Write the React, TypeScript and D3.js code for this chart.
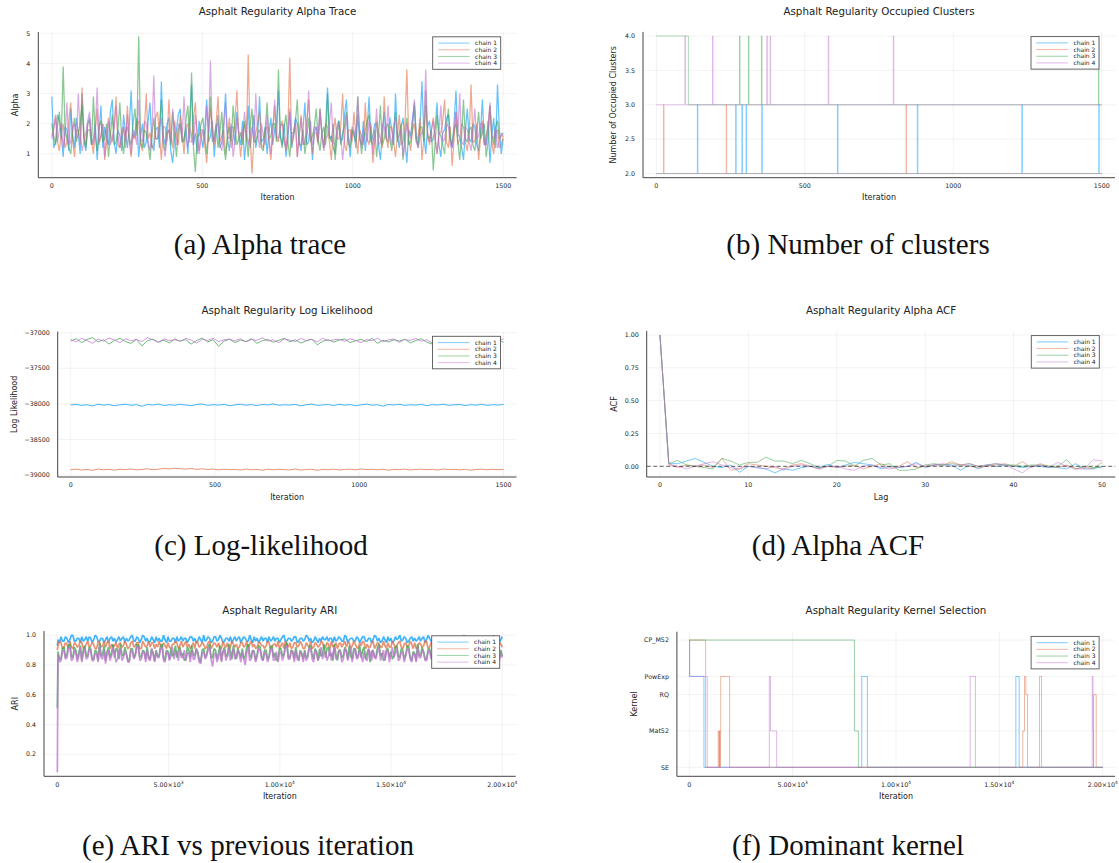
import React from 'react';
import * as d3 from 'd3';

const W = 1119;
const H = 863;

const chainNames = ['chain 1', 'chain 2', 'chain 3', 'chain 4'];
const chainColors = ['#009af9', '#e26f46', '#3da44d', '#c271d2'];

// (a) alpha trace, readings every ~6.3 iterations (1500 iterations)
const alphaChain1 = [
  2.9, 1.2, 1.4, 2.3, 2.1, 1.6, 0.9, 1.9, 1.8, 1.1, 2.5, 1.6, 1.2, 2.2, 1.7, 1.0, 3.0, 1.5, 1.1, 2.0,
  2.2, 1.3, 1.5, 2.0, 0.8, 1.7, 2.6, 1.2, 1.9, 1.5, 1.3, 2.4, 2.8, 1.4, 1.0, 1.8, 1.6, 1.1, 2.3, 1.7,
  1.2, 1.9, 3.1, 1.5, 1.7, 2.2, 0.9, 1.6, 2.0, 1.2, 1.4, 2.1, 2.7, 1.3, 1.1, 1.8, 1.9, 1.2, 3.4, 1.6,
  1.3, 2.0, 2.2, 1.1, 0.7, 1.5, 1.8, 2.3, 2.5, 1.4, 1.5, 1.9, 1.0, 2.2, 3.3, 1.3, 1.7, 1.0, 2.1, 1.6,
  1.2, 1.8, 2.8, 1.4, 1.6, 2.1, 0.9, 1.7, 2.3, 1.2, 1.4, 2.0, 3.0, 1.5, 1.1, 1.9, 1.9, 1.3, 2.4, 1.6,
  1.3, 2.1, 0.8, 1.5, 2.6, 1.2, 1.7, 2.3, 1.2, 1.6, 2.9, 1.4, 1.5, 1.9, 1.0, 1.7, 2.2, 1.3, 1.8, 2.0,
  3.1, 1.6, 1.3, 2.0, 0.9, 1.5, 2.4, 1.2, 1.6, 2.2, 2.0, 1.4, 1.1, 1.8, 2.7, 1.3, 1.4, 2.1, 0.8, 1.7,
  1.9, 1.4, 2.5, 1.7, 1.2, 2.0, 3.2, 1.5, 1.6, 1.2, 1.0, 1.9, 2.1, 1.4, 1.5, 2.3, 2.8, 1.6, 0.9, 1.8,
  1.7, 1.2, 2.3, 1.5, 1.3, 2.1, 1.1, 1.8, 2.9, 1.4, 1.6, 2.0, 2.0, 1.3, 0.8, 1.7, 2.4, 1.5, 1.4, 2.2,
  1.8, 1.3, 3.0, 1.6, 1.2, 1.9, 2.2, 1.4, 0.7, 1.8, 1.6, 2.2, 2.6, 1.5, 1.3, 2.0, 3.4, 1.6, 1.0, 1.9,
  2.1, 1.4, 1.5, 1.9, 2.7, 1.3, 0.9, 1.7, 1.8, 2.2, 2.3, 1.5, 1.2, 2.0, 3.1, 1.6, 1.6, 1.2, 0.8, 1.8,
  2.5, 1.5, 1.4, 2.0, 1.9, 1.3, 1.1, 1.7, 2.8, 1.4, 1.3, 2.1, 0.7, 1.6, 2.2, 1.2, 3.3, 1.8, 1.0, 1.5,
];
const alphaChain2 = [
  1.6, 1.9, 2.3, 1.4, 1.1, 1.7, 2.0, 1.2, 1.4, 2.1, 2.7, 1.5, 0.9, 1.8, 1.8, 1.3, 3.2, 1.6, 1.3, 2.0,
  2.1, 1.5, 1.0, 1.8, 2.5, 1.3, 1.6, 2.0, 0.8, 1.4, 2.2, 1.7, 1.4, 1.9, 2.9, 1.3, 1.2, 1.6, 1.9, 1.2,
  2.6, 1.4, 0.9, 1.7, 1.5, 2.0, 2.1, 1.3, 1.1, 1.8, 3.0, 1.5, 1.7, 1.2, 1.3, 2.2, 2.4, 1.6, 0.8, 1.9,
  1.9, 1.4, 2.8, 1.6, 1.2, 2.1, 1.6, 1.3, 2.3, 1.7, 1.0, 1.9, 2.0, 1.4, 1.4, 2.2, 2.7, 1.5, 1.1, 1.8,
  1.8, 1.3, 0.7, 1.6, 2.5, 1.9, 1.3, 2.0, 2.9, 1.4, 1.6, 1.8, 1.0, 1.5, 2.2, 1.2, 1.5, 2.1, 3.1, 1.6,
  0.9, 1.7, 2.0, 1.4, 4.3, 1.6, 0.35, 1.5, 1.7, 2.0, 2.4, 1.3, 1.2, 1.8, 1.9, 1.4, 0.8, 1.7, 2.6, 1.5,
  1.4, 1.9, 2.1, 1.5, 1.1, 1.8, 4.2, 1.3, 1.6, 2.0, 0.9, 1.6, 2.3, 1.4, 1.3, 2.1, 2.8, 1.5, 1.0, 1.7,
  1.7, 1.3, 2.5, 1.6, 1.2, 2.0, 1.9, 1.4, 0.8, 1.7, 2.2, 1.5, 1.5, 1.9, 3.0, 1.3, 1.1, 1.8, 1.8, 1.4,
  2.4, 1.6, 1.0, 1.8, 1.6, 1.3, 2.7, 1.5, 1.3, 2.0, 0.7, 1.4, 2.1, 1.7, 1.5, 1.2, 2.9, 1.6, 1.2, 1.9,
  1.9, 1.4, 0.9, 1.6, 2.3, 1.3, 1.4, 2.0, 3.8, 1.5, 1.1, 1.8, 2.0, 1.4, 1.6, 2.2, 0.8, 1.5, 2.6, 1.7,
  1.3, 1.8, 2.2, 1.5, 1.0, 1.7, 1.7, 2.1, 2.8, 1.4, 1.2, 1.9, 0.6, 1.5, 2.4, 1.3, 1.5, 2.0, 1.9, 1.4,
  1.1, 1.6, 3.3, 1.4, 1.4, 2.0, 0.8, 1.5, 2.1, 1.3, 1.6, 1.9, 2.6, 1.4, 1.0, 1.7, 1.8, 1.2, 1.3, 1.6,
];
const alphaChain3 = [
  2.0, 1.6, 1.3, 1.9, 2.4, 1.5, 3.9, 1.8, 1.5, 1.2, 1.0, 1.7, 2.2, 1.4, 1.7, 2.0, 2.6, 1.5, 1.2, 1.8,
  1.8, 1.3, 2.9, 1.6, 1.1, 1.9, 2.1, 1.4, 1.5, 2.0, 0.9, 1.6, 2.3, 1.3, 1.4, 1.8, 2.7, 1.5, 1.0, 1.7,
  1.9, 1.5, 1.3, 2.0, 2.5, 1.6, 4.9, 1.4, 1.2, 1.8, 1.7, 1.3, 0.8, 1.6, 2.2, 1.5, 1.5, 1.9, 2.8, 1.4,
  1.1, 1.7, 1.8, 1.3, 2.4, 1.6, 0.9, 1.8, 2.0, 1.4, 1.4, 2.1, 2.6, 1.5, 3.7, 1.2, 0.4, 1.6, 1.6, 2.0,
  2.2, 1.5, 1.0, 1.8, 2.9, 1.4, 1.5, 2.0, 1.2, 1.7, 2.4, 1.3, 0.8, 1.6, 1.9, 1.4, 2.6, 1.8, 1.3, 1.5,
  1.7, 1.3, 2.1, 1.6, 0.9, 1.9, 2.5, 1.4, 1.4, 1.7, 1.8, 1.2, 1.1, 1.8, 2.7, 1.5, 1.6, 2.0, 2.0, 1.4,
  3.8, 1.6, 1.2, 1.9, 2.3, 1.4, 0.9, 1.7, 1.7, 2.1, 2.8, 1.3, 1.3, 1.8, 1.0, 1.5, 2.2, 1.4, 1.6, 1.9,
  2.5, 1.5, 1.1, 1.7, 1.9, 1.3, 3.0, 1.6, 1.4, 2.0, 0.8, 1.5, 2.1, 1.3, 1.7, 1.9, 2.4, 1.4, 1.2, 1.8,
  1.6, 1.4, 2.9, 1.7, 1.0, 1.5, 1.8, 2.1, 2.3, 1.4, 1.3, 1.8, 0.9, 1.6, 2.6, 1.3, 1.5, 1.9, 2.0, 1.5,
  1.1, 1.7, 2.4, 1.4, 1.7, 2.0, 0.8, 1.6, 2.2, 1.3, 1.4, 1.8, 2.7, 1.5, 1.2, 1.9, 1.9, 1.4, 3.1, 1.6,
  1.5, 1.8, 0.45, 1.4, 2.3, 1.7, 1.6, 1.3, 1.0, 1.9, 2.5, 1.5, 1.3, 1.8, 2.0, 1.4, 0.8, 1.6, 2.8, 1.5,
  1.4, 1.8, 1.9, 1.3, 1.1, 1.7, 2.4, 1.5, 1.7, 2.0, 0.9, 1.4, 2.6, 1.6, 1.3, 1.9, 2.1, 1.5, 1.6, 1.7,
];
const alphaChain4 = [
  1.5, 1.8, 2.2, 1.4, 1.8, 2.0, 1.2, 1.6, 2.7, 1.3, 1.4, 1.9, 2.0, 1.5, 3.0, 1.7, 1.1, 1.4, 1.7, 2.1,
  2.4, 1.5, 1.3, 1.8, 3.2, 1.4, 1.6, 2.0, 0.9, 1.7, 2.1, 1.3, 1.5, 1.9, 2.6, 1.6, 1.2, 1.8, 1.9, 1.4,
  2.3, 1.6, 1.0, 1.8, 1.7, 1.3, 2.8, 1.5, 1.4, 2.1, 2.0, 1.4, 1.1, 1.7, 3.6, 1.5, 1.5, 1.9, 2.2, 1.3,
  0.9, 1.6, 1.8, 1.4, 2.5, 1.8, 1.3, 2.0, 1.9, 1.5, 2.9, 1.6, 1.2, 1.9, 1.6, 1.3, 2.3, 1.7, 1.0, 1.5,
  1.8, 1.4, 2.6, 1.7, 4.1, 1.5, 1.4, 1.9, 2.0, 1.3, 1.1, 1.8, 2.7, 1.6, 1.5, 2.0, 0.9, 1.4, 2.2, 1.7,
  1.7, 1.5, 2.4, 1.8, 1.3, 1.6, 1.9, 1.4, 3.0, 1.7, 1.2, 2.0, 1.6, 1.3, 2.3, 1.5, 1.0, 1.8, 2.8, 1.6,
  1.5, 1.9, 2.0, 1.4, 1.2, 1.7, 2.5, 1.5, 1.7, 2.1, 0.9, 1.6, 2.2, 1.3, 1.4, 1.8, 3.1, 1.5, 1.3, 1.9,
  1.9, 1.4, 2.4, 1.7, 1.1, 1.5, 1.6, 2.0, 2.7, 1.4, 1.3, 1.8, 2.0, 1.6, 0.8, 1.5, 2.3, 1.3, 1.5, 1.9,
  1.8, 1.5, 2.9, 1.6, 1.2, 1.8, 1.7, 1.4, 2.1, 1.9, 1.0, 1.6, 2.5, 1.3, 1.4, 2.0, 1.9, 1.5, 2.6, 1.7,
  1.3, 1.9, 2.2, 1.5, 1.6, 1.8, 0.9, 1.4, 2.0, 1.7, 1.5, 2.1, 2.8, 1.4, 1.2, 1.6, 1.7, 1.9, 3.8, 1.5,
  1.4, 1.8, 2.1, 1.5, 1.0, 1.7, 2.6, 1.4, 1.5, 2.0, 1.9, 1.3, 1.2, 1.8, 2.4, 1.6, 3.0, 1.4, 1.3, 1.9,
  1.8, 1.4, 1.1, 1.7, 2.5, 1.5, 1.6, 2.0, 2.0, 1.3, 1.3, 1.8, 2.7, 1.6, 1.5, 1.9, 1.2, 1.4, 1.7, 1.6,
];

// (b) occupied clusters, [iteration, clusters] change points
const clustersChain1 = [
  [0, 2], [138, 3], [140, 2], [267, 3], [269, 2], [288, 3], [290, 2], [302, 3], [304, 2], [355, 3], [357, 2],
  [610, 3], [612, 2], [879, 3], [881, 2], [1231, 3], [1233, 2], [1490, 3], [1492, 2], [1500, 2],
];
const clustersChain2 = [[0, 2], [24, 3], [26, 2], [235, 3], [237, 2], [841, 3], [843, 2], [1500, 2]];
const clustersChain3 = [
  [0, 4], [108, 3], [280, 4], [282, 3], [310, 4], [312, 3], [354, 4], [356, 3], [1489, 4], [1491, 3], [1500, 3],
];
const clustersChain4 = [
  [0, 3], [96, 4], [98, 3], [189, 4], [191, 3], [372, 4], [374, 3], [383, 4], [385, 3], [579, 4], [581, 3],
  [798, 4], [800, 3], [1500, 3],
];

// (c) log likelihood, readings over 1500 iterations
const loglikChain1 = [
  -38015, -38008, -38022, -38012, -38030, -38005, -38018, -38010, -38026, -38014, -38006, -38020, -38011, -38035, -38009, -38017,
  -38004, -38023, -38013, -38019, -38007, -38016, -38025, -38010, -38003, -38021, -38012, -38018, -38008, -38027, -38014, -38006,
  -38019, -38011, -38024, -38009, -38016, -38002, -38020, -38013, -38017, -38008, -38028, -38012, -38005, -38021, -38015, -38010,
  -38023, -38007, -38018, -38011, -38026, -38014, -38004, -38019, -38012, -38033, -38009, -38016, -38006, -38022, -38013, -38018,
  -38008, -38025, -38011, -38017, -38005, -38020, -38014, -38009, -38024, -38012, -38018, -38007, -38021, -38013, -38016, -38010,
];
const loglikChain2 = [
  -38925, -38918, -38930, -38921, -38935, -38916, -38927, -38920, -38932, -38919, -38924, -38915, -38928, -38922, -38912, -38926,
  -38918, -38908, -38914, -38905, -38911, -38917, -38909, -38920, -38913, -38923, -38916, -38928, -38919, -38925, -38921, -38930,
  -38917, -38926, -38922, -38933, -38918, -38927, -38920, -38924, -38929, -38916, -38931, -38923, -38919, -38934, -38921, -38926,
  -38917, -38930, -38922, -38918, -38928, -38915, -38924, -38920, -38927, -38919, -38932, -38921, -38925, -38917, -38929, -38922,
  -38918, -38926, -38920, -38931, -38916, -38924, -38921, -38928, -38919, -38933, -38923, -38917, -38927, -38920, -38925, -38922,
];
const loglikChain3 = [
  -37120, -37085, -37140, -37095, -37070, -37130, -37100, -37160, -37110, -37080, -37125, -37150, -37095, -37185, -37115, -37090,
  -37135, -37105, -37145, -37088, -37120, -37098, -37160, -37110, -37075, -37130, -37100, -37190, -37118, -37092, -37140, -37105,
  -37125, -37085, -37150, -37112, -37096, -37135, -37108, -37078, -37128, -37100, -37145, -37115, -37090, -37170, -37120, -37098,
  -37132, -37105, -37088, -37140, -37112, -37095, -37125, -37080, -37150, -37108, -37130, -37100, -37118, -37092, -37145, -37110,
  -37085, -37135, -37160, -37102, -37125, -37090, -37140, -37108, -37095, -37130, -37115, -37088, -37150, -37120, -37100, -37135,
];
const loglikChain4 = [
  -37095, -37130, -37080, -37110, -37150, -37090, -37120, -37075, -37105, -37140, -37085, -37115, -37095, -37125, -37070, -37100,
  -37135, -37088, -37112, -37098, -37120, -37080, -37105, -37145, -37092, -37110, -37078, -37125, -37100, -37090, -37115, -37085,
  -37130, -37095, -37108, -37072, -37118, -37100, -37140, -37088, -37105, -37125, -37082, -37110, -37095, -37130, -37078, -37115,
  -37100, -37092, -37120, -37086, -37108, -37140, -37098, -37112, -37080, -37125, -37102, -37090, -37135, -37095, -37110, -37082,
  -37120, -37100, -37145, -37088, -37105, -37092, -37118, -37080, -37110, -37128, -37094, -37106, -37085, -37120, -37098, -37090,
];

// (d) alpha ACF, lags 0..50
const acfChain1 = [
  1.0, 0.02, 0.02, 0.04, 0.06, 0.03, 0.0, -0.01, 0.01, -0.045, 0.0, -0.01, -0.02, -0.05, -0.02, -0.03, -0.01, 0.0, -0.01, 0.015,
  -0.01, 0.01, 0.03, 0.02, 0.01, -0.02, 0.0, -0.01, 0.0, 0.03, -0.01, 0.01, 0.01, 0.01, -0.03, 0.01, -0.02, 0.01, 0.0, 0.01,
  0.0, -0.01, 0.0, 0.0, -0.01, -0.01, -0.02, 0.02, -0.02, -0.02, 0.0,
];
const acfChain2 = [
  1.0, 0.02, -0.01, 0.01, 0.0, 0.01, -0.01, 0.06, -0.03, -0.02, 0.02, 0.01, 0.0, -0.01, -0.02, 0.01, 0.02, 0.0, -0.02, 0.0,
  -0.01, 0.0, 0.01, -0.02, 0.0, 0.02, -0.01, 0.0, 0.035, -0.01, 0.0, 0.01, 0.01, 0.035, 0.01, 0.0, -0.01, 0.0, 0.01, 0.02,
  0.0, 0.035, -0.01, 0.02, 0.0, -0.01, 0.01, -0.02, -0.01, -0.02, 0.03,
];
const acfChain3 = [
  1.0, 0.02, 0.045, 0.01, 0.0, -0.01, -0.02, 0.06, 0.04, 0.01, 0.03, 0.03, 0.07, 0.04, 0.04, 0.02, 0.045, 0.02, -0.01, 0.0,
  0.045, 0.04, 0.0, 0.045, 0.06, 0.01, 0.02, -0.03, -0.03, -0.02, 0.01, 0.02, 0.01, 0.02, 0.01, 0.02, 0.0, 0.01, 0.02, 0.01,
  0.01, 0.0, 0.01, 0.01, 0.0, 0.0, 0.05, -0.02, 0.0, -0.01, -0.01,
];
const acfChain4 = [
  1.0, 0.01, 0.0, -0.02, 0.0, 0.02, 0.035, 0.01, -0.01, -0.02, 0.0, -0.01, -0.02, 0.0, -0.03, 0.0, 0.01, 0.0, -0.02, 0.0,
  0.0, -0.02, -0.03, 0.0, 0.01, -0.01, -0.02, -0.01, 0.0, 0.02, 0.0, 0.01, 0.02, 0.0, 0.01, 0.02, 0.0, 0.01, 0.02, 0.01,
  -0.02, -0.05, 0.0, 0.01, -0.01, 0.03, 0.0, -0.02, -0.02, 0.05, 0.04,
];

// (e) ARI vs previous iteration: first value at iteration 0, then readings over 20000 iterations
const ariStart = [0.93, 0.9, 0.51, 0.08];
const ariChain1 = [
  .97, .95, .99, .96, .96, .99, .98, .95, .97, 1.0, 1.0, .96, .96, .98, .98, .95, .99, .96, .97, .99,
  .96, .99, .98, .95, .97, 1.0, .99, .96, .96, .98, .98, .95, .97, .99, .95, .98, .99, .96, .98, .95,
  .97, .99, .96, .98, .99, .95, .98, .96, .97, .99, 1.0, .96, .96, .99, .98, .95, .97, 1.0, .99, .96,
  .98, .95, .96, .99, .97, .95, .99, .96, .98, .96, .96, 1.0, .97, .95, .99, .96, .96, .98, .98, .95,
  .99, .96, .97, .99, .96, .98, .98, .95, .97, .99, .99, .96, .98, .95, .96, .99, .97, .95, 1.0, .96,
  .97, .99, .98, .95, .96, .99, .99, .96, .97, 1.0, .98, .95, .96, .98, .98, .96, .99, .95, .97, .99,
  .96, .98, .99, .95, .97, .99, .98, .96, .96, 1.0, .97, .95, .99, .96, .98, .95, .97, .99, .96, .98,
  .98, .95, .99, .96, .97, .99, .96, .98, .98, .95, .97, .99, 1.0, .96, .96, .98, .98, .96, .97, .99,
  .99, .95, .96, .98, .98, .96, .97, 1.0, .99, .96, .98, .95, .96, .99, .97, .95, .98, .96, .99, .97,
  .97, .99, .96, .98, .98, .95, .99, .96, .97, .99, .98, .96, .96, 1.0, .99, .95, .97, .98, .98, .96,
  .96, .99, .98, .95, .97, .99, .99, .96, .96, .98, .98, .95, .97, 1.0, .99, .96, .98, .95, .96, .99,
  .97, .95, .99, .96, .98, .95, .96, .99, .97, .98, 1.0, .96, .97, .99, .98, .95, .96, .98, .99, .96,
  .98, .96, .97, .99, .96, .98, .99, .95, .97, 1.0, .98, .96, .96, .99, .98, .95, .99, .96, .97, .99,
  .96, .99, .98, .95, .97, .99, .99, .96, .98, .95, .96, .98, .97, 1.0, .99, .96, .97, .95, .98, .96,
  .99, .95, .96, .98, .98, .96, .97, .99, .99, .96, .98, .95, .96, 1.0, .97, .96, .98, .95, .97, .99,
];
const ariChain2 = [
  .93, .96, .95, .91, .92, .95, .94, .91, .96, .92, .91, .95, .94, .92, .93, .96, .95, .91, .92, .94,
  .96, .92, .93, .95, .94, .91, .91, .96, .95, .92, .93, .96, .92, .95, .96, .91, .94, .92, .93, .95,
  .91, .94, .95, .92, .93, .96, .94, .91, .92, .95, .96, .92, .93, .95, .95, .91, .91, .96, .94, .92,
  .93, .96, .92, .95, .95, .91, .94, .92, .96, .93, .92, .95, .93, .91, .95, .92, .91, .94, .94, .96,
  .95, .91, .93, .96, .92, .94, .96, .92, .94, .91, .93, .95, .91, .96, .95, .92, .93, .95, .94, .91,
  .92, .95, .96, .91, .93, .95, .94, .92, .95, .91, .91, .96, .93, .92, .95, .91, .92, .96, .94, .92,
  .94, .91, .92, .95, .95, .92, .93, .96, .91, .94, .96, .92, .94, .91, .92, .95, .95, .93, .93, .91,
  .93, .96, .95, .91, .92, .94, .94, .92, .96, .91, .93, .95, .91, .96, .94, .92, .95, .91, .92, .95,
  .95, .92, .93, .96, .94, .91, .91, .95, .93, .92, .96, .91, .92, .95, .94, .92, .93, .96, .95, .91,
  .92, .95, .94, .91, .96, .92, .93, .95, .91, .94, .95, .92, .94, .96, .92, .95, .95, .91, .93, .96,
  .94, .92, .91, .95, .93, .96, .95, .91, .94, .92, .92, .95, .96, .91, .93, .95, .94, .92, .92, .96,
  .93, .91, .95, .92, .92, .96, .94, .91, .93, .95, .96, .92, .91, .94, .95, .92, .93, .96, .94, .91,
  .95, .91, .92, .95, .94, .92, .93, .96, .96, .91, .92, .95, .94, .92, .91, .95, .95, .92, .93, .96,
  .92, .96, .94, .91, .95, .92, .93, .95, .91, .94, .94, .92, .96, .91, .93, .95, .92, .96, .95, .91,
  .94, .92, .93, .95, .91, .94, .95, .92, .93, .96, .94, .91, .92, .95, .96, .92, .93, .95, .94, .92,
];
const ariChain3 = [
  .89, .84, .84, .91, .92, .85, .87, .93, .94, .86, .85, .92, .90, .84, .88, .93, .83, .90, .93, .86,
  .86, .92, .91, .84, .84, .90, .89, .83, .95, .86, .87, .93, .83, .89, .92, .85, .88, .94, .85, .91,
  .90, .84, .94, .87, .86, .92, .88, .83, .83, .91, .91, .85, .87, .94, .93, .86, .85, .90, .89, .84,
  .92, .85, .84, .91, .88, .83, .90, .86, .86, .93, .94, .85, .83, .90, .89, .84, .91, .86, .87, .93,
  .85, .90, .92, .86, .88, .83, .84, .92, .90, .85, .93, .87, .86, .91, .89, .84, .82, .90, .91, .85,
  .87, .92, .94, .85, .85, .91, .90, .84, .88, .93, .83, .89, .92, .86, .86, .94, .89, .84, .93, .87,
  .84, .91, .88, .85, .91, .84, .86, .92, .94, .87, .85, .90, .89, .83, .87, .93, .92, .86, .83, .90,
  .90, .84, .86, .92, .93, .85, .88, .83, .84, .91, .91, .86, .87, .93, .95, .85, .85, .90, .89, .84,
  .92, .86, .83, .90, .88, .84, .90, .85, .86, .92, .93, .87, .84, .91, .89, .83, .91, .86, .87, .94,
  .85, .91, .92, .86, .88, .83, .94, .87, .83, .90, .90, .85, .86, .92, .89, .84, .93, .86, .84, .91,
  .91, .85, .87, .93, .85, .90, .92, .84, .88, .91, .82, .89, .90, .85, .86, .92, .94, .86, .88, .83,
  .84, .90, .91, .85, .89, .84, .86, .92, .93, .86, .85, .91, .90, .84, .87, .93, .92, .85, .83, .89,
  .88, .83, .94, .87, .86, .92, .89, .84, .84, .90, .91, .86, .87, .93, .93, .85, .85, .91, .90, .84,
  .92, .85, .86, .91, .83, .90, .89, .84, .91, .86, .87, .93, .94, .85, .85, .90, .88, .83, .90, .87,
  .86, .92, .93, .85, .84, .90, .89, .83, .91, .86, .85, .92, .92, .84, .87, .91, .88, .85, .90, .86,
];
const ariChain4 = [
  .87, .82, .83, .89, .90, .84, .85, .91, .92, .83, .84, .90, .88, .82, .86, .92, .82, .88, .91, .84,
  .85, .91, .89, .83, .83, .88, .87, .82, .93, .85, .84, .90, .81, .87, .90, .83, .86, .92, .88, .82,
  .84, .90, .91, .83, .85, .89, .87, .82, .82, .90, .89, .84, .86, .92, .92, .83, .84, .89, .88, .82,
  .90, .84, .83, .91, .87, .82, .89, .85, .85, .91, .92, .83, .82, .89, .88, .83, .86, .92, .84, .88,
  .89, .83, .91, .85, .85, .90, .83, .88, .88, .82, .90, .84, .84, .91, .87, .82, .81, .88, .89, .84,
  .86, .90, .92, .84, .79, .87, .88, .82, .85, .91, .82, .89, .90, .83, .86, .92, .83, .88, .91, .84,
  .85, .90, .87, .82, .89, .84, .80, .88, .92, .83, .84, .90, .88, .82, .86, .91, .90, .84, .83, .89,
  .87, .82, .85, .90, .91, .83, .84, .89, .82, .88, .89, .83, .86, .92, .93, .84, .84, .90, .88, .82,
  .90, .84, .83, .89, .87, .82, .89, .83, .85, .91, .91, .84, .82, .90, .88, .83, .86, .92, .84, .88,
  .89, .83, .86, .91, .83, .88, .92, .84, .85, .90, .88, .82, .84, .91, .90, .83, .87, .92, .82, .88,
  .91, .84, .85, .90, .86, .82, .89, .84, .83, .91, .88, .83, .90, .85, .84, .89, .92, .83, .86, .90,
  .83, .90, .89, .82, .87, .92, .85, .88, .91, .83, .84, .89, .88, .82, .86, .91, .90, .84, .82, .88,
  .87, .82, .92, .85, .85, .90, .88, .83, .83, .89, .90, .84, .86, .92, .91, .83, .84, .88, .87, .82,
  .89, .83, .85, .91, .82, .88, .88, .84, .90, .82, .86, .91, .93, .84, .84, .89, .87, .82, .89, .85,
  .85, .90, .91, .83, .83, .89, .88, .82, .90, .84, .84, .91, .89, .83, .86, .90, .87, .83, .88, .85,
];

// (f) dominant kernel, [iteration, kernel] change points
const kernelNames = ['SE', 'Mat52', 'RQ', 'PowExp', 'CP_M52'];
const kernelLevels = [1, 2, 3, 3.5, 4.5];
const kernelChain1 = [
  [0, 'CP_M52'], [15, 'PowExp'], [710, 'SE'], [8344, 'PowExp'], [8616, 'SE'], [15799, 'PowExp'], [15958, 'SE'], [20000, 'SE'],
];
const kernelChain2 = [
  [0, 'CP_M52'], [790, 'SE'], [1400, 'Mat52'], [1440, 'SE'], [1460, 'Mat52'], [1490, 'SE'], [1500, 'Mat52'], [1520, 'PowExp'],
  [1950, 'SE'], [16136, 'Mat52'], [16217, 'PowExp'], [16281, 'RQ'], [16362, 'SE'], [16943, 'PowExp'], [17040, 'SE'],
  [19557, 'RQ'], [19686, 'SE'], [20000, 'SE'],
];
const kernelChain3 = [[0, 'CP_M52'], [7987, 'Mat52'], [8180, 'SE'], [20000, 'SE']];
const kernelChain4 = [
  [0, 'CP_M52'], [15, 'PowExp'], [870, 'SE'], [3872, 'PowExp'], [3930, 'Mat52'], [4226, 'SE'], [13588, 'PowExp'],
  [13843, 'SE'], [19493, 'PowExp'], [19530, 'Mat52'], [19557, 'SE'], [20000, 'SE'],
];

// ticks
const iterTicksShort = [0, 500, 1000, 1500];
const iterTicksLong = [0, 5000, 10000, 15000, 20000];
const alphaTicks = [1, 2, 3, 4, 5];
const clusterTicks = [2.0, 2.5, 3.0, 3.5, 4.0];
const loglikTicks = [-39000, -38500, -38000, -37500, -37000];
const lagTicks = [0, 10, 20, 30, 40, 50];
const acfTicks = [0, 0.25, 0.5, 0.75, 1.0];
const ariTicks = [0.2, 0.4, 0.6, 0.8, 1.0];

type Pt = [number, number];
type Box = { l: number; t: number; r: number; b: number };

const spread = (vals: number[], x0: number, x1: number): Pt[] =>
  vals.map((v, i) => [x0 + (i * (x1 - x0)) / (vals.length - 1), v]);

const sciLabel = (v: number) => {
  if (v === 0) return '0';
  const e = Math.floor(Math.log10(v));
  return (
    <>
      {(v / Math.pow(10, e)).toFixed(2)}×10<tspan dy={-2.8} fontSize={4.4}>{e}</tspan>
    </>
  );
};

type PanelProps = {
  box: Box;
  xDomain: [number, number];
  yDomain: [number, number];
  xTicks: number[];
  xFmt: (v: number) => React.ReactNode;
  yTicks: number[];
  yFmt: (v: number) => string;
  yTickLabels?: string[];
  title: string;
  xLabel: string;
  yLabel: string;
  yLabelX: number;
  series: Pt[][];
  opacity: number;
  lw: number;
  step?: boolean;
  zeroLine?: boolean;
  caption: string;
  capX: number;
  capY: number;
};

function Panel(p: PanelProps) {
  const { box } = p;
  const x = d3.scaleLinear().domain(p.xDomain).range([box.l, box.r]);
  const y = d3.scaleLinear().domain(p.yDomain).range([box.b, box.t]);
  const line = d3
    .line<Pt>()
    .x((d) => x(d[0]))
    .y((d) => y(d[1]))
    .curve(p.step ? d3.curveStepAfter : d3.curveLinear);
  const lgW = 68;
  const lgX = box.r - 16 - lgW;
  const lgY = box.t + 4.7;
  const txt = '#222';
  return (
    <g fontFamily="DejaVu Sans, sans-serif">
      <text x={(box.l + box.r) / 2} y={box.t - 17.4} textAnchor="middle" fontSize={10.3} fill={txt}>
        {p.title}
      </text>
      {p.xTicks.map((v) => (
        <line key={'gx' + v} x1={x(v)} x2={x(v)} y1={box.t} y2={box.b} stroke="#000" strokeOpacity={0.1} strokeWidth={0.5} />
      ))}
      {p.yTicks.map((v) => (
        <line key={'gy' + v} x1={box.l} x2={box.r} y1={y(v)} y2={y(v)} stroke="#000" strokeOpacity={0.1} strokeWidth={0.5} />
      ))}
      {p.series.map((s, i) => (
        <path key={i} d={line(s) || ''} fill="none" stroke={chainColors[i]} strokeOpacity={p.opacity} strokeWidth={p.lw} strokeLinejoin="bevel" />
      ))}
      {p.zeroLine && (
        <line x1={box.l} x2={box.r} y1={y(0)} y2={y(0)} stroke="#000" strokeOpacity={0.6} strokeWidth={1} strokeDasharray="4 2.5" />
      )}
      <line x1={box.l} x2={box.l} y1={box.t} y2={box.b} stroke="#444" strokeWidth={1} />
      <line x1={box.l} x2={box.r} y1={box.b} y2={box.b} stroke="#444" strokeWidth={1} />
      {p.xTicks.map((v) => (
        <text key={'tx' + v} x={x(v)} y={box.b + 10.3} textAnchor="middle" fontSize={6.3} fill={txt}>
          {p.xFmt(v)}
        </text>
      ))}
      {p.yTicks.map((v, i) => (
        <text key={'ty' + v} x={box.l - 8} y={y(v) + 2.2} textAnchor="end" fontSize={6.3} fill={txt}>
          {p.yTickLabels ? p.yTickLabels[i] : p.yFmt(v)}
        </text>
      ))}
      <text x={(box.l + box.r) / 2} y={box.b + 22.5} textAnchor="middle" fontSize={8} fill={txt}>
        {p.xLabel}
      </text>
      <text
        transform={`translate(${p.yLabelX},${(box.t + box.b) / 2}) rotate(-90)`}
        textAnchor="middle"
        fontSize={8}
        fill={txt}
      >
        {p.yLabel}
      </text>
      <rect x={lgX} y={lgY} width={lgW} height={32.5} fill="#fff" stroke="#555" strokeWidth={0.9} />
      {chainNames.map((n, i) => (
        <g key={n}>
          <line
            x1={lgX + 5.4}
            x2={lgX + 37}
            y1={lgY + 6.3 + i * 6.67}
            y2={lgY + 6.3 + i * 6.67}
            stroke={chainColors[i]}
            strokeOpacity={0.5}
            strokeWidth={1}
          />
          <text x={lgX + 42.4} y={lgY + 6.3 + i * 6.67 + 2.1} fontSize={6} fill={txt}>
            {n}
          </text>
        </g>
      ))}
      <text x={p.capX} y={p.capY} textAnchor="middle" fontSize={29} fontFamily="Liberation Serif, serif" fill="#111">
        {p.caption}
      </text>
    </g>
  );
}

export default function App() {
  const alphaSeries = [alphaChain1, alphaChain2, alphaChain3, alphaChain4].map((c) => spread(c, 0, 1500));
  const clusterSeries = [clustersChain1, clustersChain2, clustersChain3, clustersChain4] as Pt[][];
  const loglikSeries = [loglikChain1, loglikChain2, loglikChain3, loglikChain4].map((c) => spread(c, 0, 1500));
  const acfSeries = [acfChain1, acfChain2, acfChain3, acfChain4].map((c) => c.map((v, i) => [i, v] as Pt));
  const ariSeries = [ariChain1, ariChain2, ariChain3, ariChain4].map((c, i) => [[0, ariStart[i]] as Pt, ...spread(c, 30, 20000)]);
  const kernelSeries = [kernelChain1, kernelChain2, kernelChain3, kernelChain4].map((c) =>
    c.map((d) => [d[0] as number, kernelLevels[kernelNames.indexOf(d[1] as string)]] as Pt)
  );

  return (
    <svg width={W} height={H} style={{ position: 'absolute', left: 0, top: 0, background: '#fff' }}>
      <rect width={W} height={H} fill="#fff" />
      <Panel
        box={{ l: 38.3, t: 32.1, r: 516.7, b: 177.7 }}
        xDomain={[-45, 1545]}
        yDomain={[0.21, 5.04]}
        xTicks={iterTicksShort}
        xFmt={(v) => String(v)}
        yTicks={alphaTicks}
        yFmt={(v) => String(v)}
        title="Asphalt Regularity Alpha Trace"
        xLabel="Iteration"
        yLabel="Alpha"
        yLabelX={17.5}
        series={alphaSeries}
        opacity={0.6}
        lw={1.25}
        caption="(a) Alpha trace"
        capX={260}
        capY={254}
      />
      <Panel
        box={{ l: 643, t: 31.9, r: 1115, b: 177.7 }}
        xDomain={[-45, 1545]}
        yDomain={[1.94, 4.06]}
        xTicks={iterTicksShort}
        xFmt={(v) => String(v)}
        yTicks={clusterTicks}
        yFmt={d3.format('.1f')}
        title="Asphalt Regularity Occupied Clusters"
        xLabel="Iteration"
        yLabel="Number of Occupied Clusters"
        yLabelX={615.5}
        series={clusterSeries}
        opacity={0.4}
        lw={1}
        step
        caption="(b) Number of clusters"
        capX={858}
        capY={254}
      />
      <Panel
        box={{ l: 57.7, t: 331.6, r: 516.5, b: 477 }}
        xDomain={[-45, 1545]}
        yDomain={[-39028, -36985]}
        xTicks={iterTicksShort}
        xFmt={(v) => String(v)}
        yTicks={loglikTicks}
        yFmt={d3.format('d')}
        title="Asphalt Regularity Log Likelihood"
        xLabel="Iteration"
        yLabel="Log Likelihood"
        yLabelX={17}
        series={loglikSeries}
        opacity={0.75}
        lw={1}
        caption="(c) Log-likelihood"
        capX={261}
        capY={555}
      />
      <Panel
        box={{ l: 646.7, t: 330.9, r: 1115.3, b: 477 }}
        xDomain={[-1.5, 51.5]}
        yDomain={[-0.0815, 1.0315]}
        xTicks={lagTicks}
        xFmt={(v) => String(v)}
        yTicks={acfTicks}
        yFmt={d3.format('.2f')}
        title="Asphalt Regularity Alpha ACF"
        xLabel="Lag"
        yLabel="ACF"
        yLabelX={616.7}
        series={acfSeries}
        opacity={0.6}
        lw={0.9}
        zeroLine
        caption="(d) Alpha ACF"
        capX={838}
        capY={555}
      />
      <Panel
        box={{ l: 44, t: 631.1, r: 515.7, b: 776.3 }}
        xDomain={[-600, 20600]}
        yDomain={[0.052, 1.028]}
        xTicks={iterTicksLong}
        xFmt={sciLabel}
        yTicks={ariTicks}
        yFmt={d3.format('.1f')}
        title="Asphalt Regularity ARI"
        xLabel="Iteration"
        yLabel="ARI"
        yLabelX={18.3}
        series={ariSeries}
        opacity={0.75}
        lw={1.7}
        caption="(e) ARI vs previous iteration"
        capX={248}
        capY={855}
      />
      <Panel
        box={{ l: 676.9, t: 631.7, r: 1115.1, b: 776.3 }}
        xDomain={[-600, 20600]}
        yDomain={[0.753, 4.73]}
        xTicks={iterTicksLong}
        xFmt={sciLabel}
        yTicks={kernelLevels}
        yFmt={(v) => String(v)}
        yTickLabels={kernelNames}
        title="Asphalt Regularity Kernel Selection"
        xLabel="Iteration"
        yLabel="Kernel"
        yLabelX={636.7}
        series={kernelSeries}
        opacity={0.5}
        lw={1}
        step
        caption="(f) Dominant kernel"
        capX={848}
        capY={855}
      />
    </svg>
  );
}
